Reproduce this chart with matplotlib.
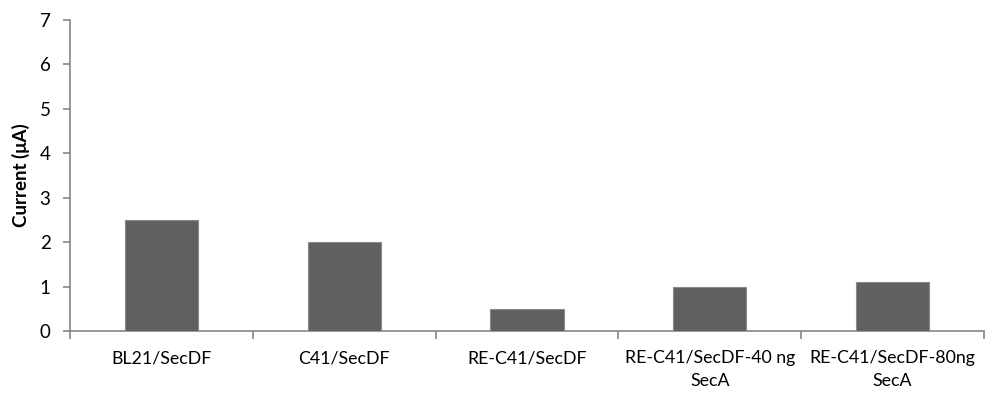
import matplotlib
matplotlib.use("Agg")
import matplotlib.pyplot as plt
import numpy as np

categories = ["BL21/SecDF", "C41/SecDF", "RE-C41/SecDF",
              "RE-C41/SecDF-40 ng\nSecA", "RE-C41/SecDF-80ng\nSecA"]
values = [2.5, 2.0, 0.5, 1.0, 1.1]
yticks = [0, 1, 2, 3, 4, 5, 6, 7]

plt.rcParams['font.family'] = ['Lato', 'DejaVu Sans']
axis_color = '#868686'

fig = plt.figure(figsize=(9.85, 3.94), dpi=100)
ax = fig.add_axes([70/985, 1-331/394, (984-70)/985, (331-20)/394])

x = np.arange(len(categories))
ax.bar(x, values, width=0.4, color='#606060', edgecolor='#8a8a8a', linewidth=0.8, zorder=3)

ax.set_xlim(-0.5, len(categories) - 0.5)
ax.set_ylim(0, 7)
ax.set_yticks(yticks)
ax.set_yticklabels([str(t) for t in yticks], fontsize=13.5)

ax.set_xticks(x)
ax.set_xticklabels(categories, fontsize=12.8, linespacing=1.5)
ax.tick_params(axis='x', length=0, pad=14)
ax.set_xticks(np.arange(-0.5, len(categories), 1.0), minor=True)
ax.tick_params(axis='x', which='minor', length=6, color=axis_color, width=1.2, direction='out')
ax.tick_params(axis='y', length=5, color=axis_color, width=1.2, direction='out', pad=9)

for s in ['top', 'right']:
    ax.spines[s].set_visible(False)
for s in ['left', 'bottom']:
    ax.spines[s].set_color(axis_color)
    ax.spines[s].set_linewidth(1.2)

ax.set_ylabel("Current (μA)", fontsize=13.5, fontweight='bold', labelpad=7)

fig.savefig("out.png", dpi=100)
